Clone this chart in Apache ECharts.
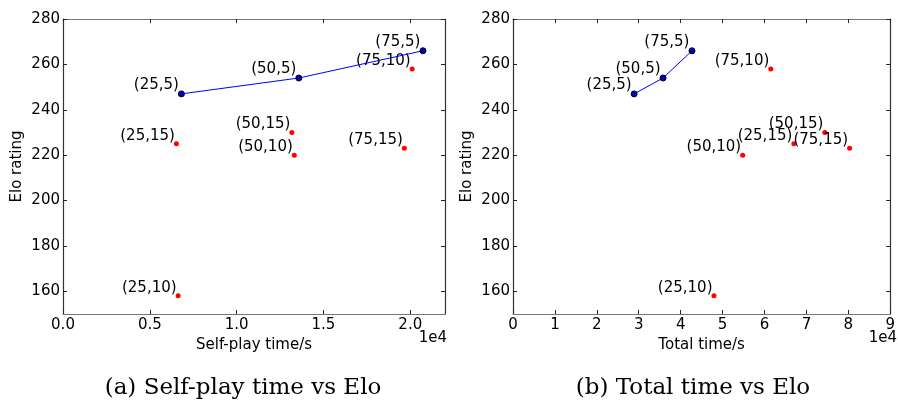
<!DOCTYPE html>
<html>
<head>
<meta charset="utf-8">
<script src="https://cdn.jsdelivr.net/npm/echarts@6/dist/echarts.min.js"></script>
<style>
html,body{margin:0;padding:0;background:#fff;}
#c{width:898px;height:403px;}
</style>
</head>
<body>
<div id="c"></div>
<script>
// (playouts, depth) configurations
var labels = ['(25,5)','(50,5)','(75,5)','(25,10)','(50,10)','(75,10)','(25,15)','(50,15)','(75,15)'];
var elo = [247,254,266,158,220,258,225,230,223];
var selfPlayTime = [6820,13580,20730,6630,13320,20110,6530,13180,19660];
var totalTime = [28900,35800,42700,47950,54800,61500,67000,74400,80300];
var lineIdx = [0,1,2];          // depth-5 configs joined by a line
var yTicks = [160,180,200,220,240,260,280];
var xTicksA = [0,5000,10000,15000,20000];
var xTicksB = [0,10000,20000,30000,40000,50000,60000,70000,80000,90000];

var FONT = 'DejaVu Sans';
var FS = 15;
function pts(xs, idxs){ return idxs.map(function(i){ return {value:[xs[i], elo[i]], name:labels[i]}; }); }
var allIdx = labels.map(function(_,i){return i;});
var redIdx = allIdx.filter(function(i){ return lineIdx.indexOf(i) < 0; });

var labelStyle = {
  show:true, formatter:function(p){return p.name;}, position:[1,2], align:'right', verticalAlign:'bottom',
  fontFamily:FONT, fontSize:FS, color:'#000', opacity:1
};

function xAxes(gi, max, ticks, fmt, name){
  return [{
    gridIndex:gi, type:'value', min:0, max:max, position:'bottom',
    name:name, nameLocation:'middle', nameGap:19,
    nameTextStyle:{fontFamily:FONT,fontSize:FS,color:'#000',verticalAlign:'top'},
    axisLine:{show:true,lineStyle:{color:'#777',width:1.2}},
    axisTick:{show:true,inside:true,length:4,customValues:ticks,lineStyle:{color:'#222'}},
    axisLabel:{show:true,customValues:ticks,formatter:fmt,fontFamily:FONT,fontSize:FS,color:'#000',margin:4},
    splitLine:{show:false}
  },{
    gridIndex:gi, type:'value', min:0, max:max, position:'top',
    axisLine:{show:true,onZero:false,lineStyle:{color:'#777',width:1.2}},
    axisTick:{show:true,inside:true,length:4,customValues:ticks,lineStyle:{color:'#222'}},
    axisLabel:{show:false}, splitLine:{show:false}
  }];
}
function yAxes(gi){
  return [{
    gridIndex:gi, type:'value', min:150, max:280, position:'left',
    name:'Elo rating', nameLocation:'middle', nameGap:38, nameRotate:90,
    nameTextStyle:{fontFamily:FONT,fontSize:FS,color:'#000'},
    axisLine:{show:true,lineStyle:{color:'#333',width:1.2}},
    axisTick:{show:true,inside:true,length:4,customValues:yTicks,lineStyle:{color:'#222'}},
    axisLabel:{show:true,customValues:yTicks,fontFamily:FONT,fontSize:FS,color:'#000',margin:3},
    splitLine:{show:false}
  },{
    gridIndex:gi, type:'value', min:150, max:280, position:'right',
    axisLine:{show:true,onZero:false,lineStyle:{color:'#333',width:1.2}},
    axisTick:{show:true,inside:true,length:4,customValues:yTicks,lineStyle:{color:'#222'}},
    axisLabel:{show:false}, splitLine:{show:false}
  }];
}

function seriesFor(xs, xi, yi){
  return [{
    type:'line', xAxisIndex:xi, yAxisIndex:yi, data:pts(xs, lineIdx),
    symbol:'circle', symbolSize:6,
    lineStyle:{color:'#0000ff',width:1},
    itemStyle:{color:'#0000c0',borderColor:'#000000',borderWidth:1,opacity:1},
    label:labelStyle, emphasis:{disabled:true}, animation:false
  },{
    type:'scatter', xAxisIndex:xi, yAxisIndex:yi, data:pts(xs, redIdx),
    symbol:'circle', symbolSize:5,
    itemStyle:{color:'#ff0000',opacity:1},
    label:labelStyle, emphasis:{disabled:true}, animation:false
  }];
}

var chart = echarts.init(document.getElementById('c'));
chart.setOption({
  animation:false,
  backgroundColor:'#fff',
  grid:[
    {left:63, right:453, top:19, bottom:89, containLabel:false},
    {left:513, right:3, top:19, bottom:89, containLabel:false}
  ],
  xAxis: xAxes(0, 22000, xTicksA, function(v){return (v/1e4).toFixed(1);}, 'Self-play time/s')
    .concat(xAxes(1, 90000, xTicksB, function(v){return String(Math.round(v/1e4));}, 'Total time/s')),
  yAxis: yAxes(0).concat(yAxes(1)),
  series: seriesFor(selfPlayTime, 0, 0).concat(seriesFor(totalTime, 2, 2)),
  graphic:[
    {type:'text', right:451, top:331, style:{text:'1e4', font:'15px "DejaVu Sans"', fill:'#000'}},
    {type:'text', right:1, top:331, style:{text:'1e4', font:'15px "DejaVu Sans"', fill:'#000'}},
    {type:'text', x:243, y:388, style:{text:'(a) Self-play time vs Elo', font:'23px "DejaVu Serif"', fill:'#000', align:'center', verticalAlign:'middle'}},
    {type:'text', x:693, y:388, style:{text:'(b) Total time vs Elo', font:'23px "DejaVu Serif"', fill:'#000', align:'center', verticalAlign:'middle'}}
  ]
});
</script>
</body>
</html>
